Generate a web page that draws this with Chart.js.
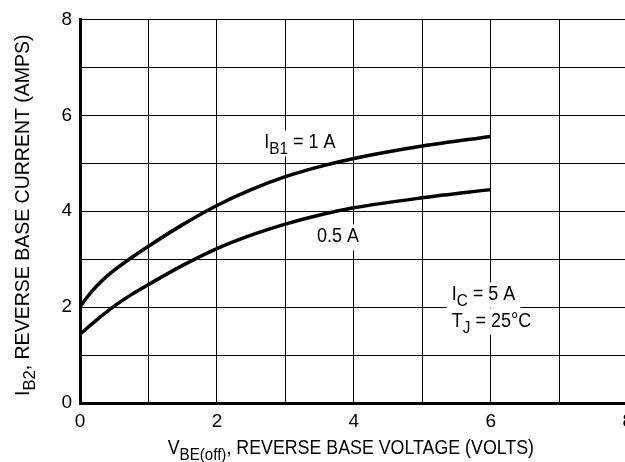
<!DOCTYPE html>
<html>
<head>
<meta charset="utf-8">
<script src="https://cdn.jsdelivr.net/npm/chart.js@4/dist/chart.umd.min.js"></script>
<style>
  html, body { margin: 0; padding: 0; background: #fff; overflow: hidden; }
  #wrap { width: 640px; height: 462px; }
</style>
</head>
<body>
<div id="wrap"><canvas id="ib2-chart" width="640" height="462"></canvas></div>
<script>
/** IB2 vs VBE(off) curves **/

// reverse base voltage (volts)
var vbe = [0, 0.1, 0.25, 0.5, 0.75, 1, 1.5, 2, 2.5, 3, 3.5, 4, 5, 6];
// reverse base current (amps) for IB1 = 1 A and IB1 = 0.5 A
var ib1One  = [2.0, 2.2, 2.45, 2.77, 3.03, 3.27, 3.72, 4.12, 4.45, 4.72, 4.93, 5.1, 5.36, 5.56];
var ib1Half = [1.43, 1.56, 1.74, 2.02, 2.26, 2.47, 2.87, 3.22, 3.5, 3.73, 3.92, 4.07, 4.28, 4.45];
var xTicks = [0, 2, 4, 6, 8];
var yTicks = [0, 2, 4, 6, 8];

var FONT = '"Liberation Sans", Arial, sans-serif';

function pts(xs, ys) {
    return xs.map(function (x, i) { return { x: x, y: ys[i] }; });
}

// width of text with subscripts: parts = [[text, isSub], ...]
function richWidth(ctx, parts, size) {
    var w = 0;
    parts.forEach(function (p) {
        ctx.font = (p[1] ? size * 0.85 : size) + 'px ' + FONT;
        w += ctx.measureText(p[0]).width;
    });
    return w;
}

// draws it squeezed sideways by sx (the original face is a narrow one)
function richText(ctx, parts, x, y, size, align, sx) {
    var total = richWidth(ctx, parts, size) * sx;
    ctx.save();
    ctx.translate(align === 'center' ? x - total / 2 : x, y);
    ctx.scale(sx, 1);
    var cx = 0;
    parts.forEach(function (p) {
        ctx.font = (p[1] ? size * 0.85 : size) + 'px ' + FONT;
        ctx.fillText(p[0], cx, p[1] ? 6 : 0);
        cx += ctx.measureText(p[0]).width;
    });
    ctx.restore();
    return total;
}

var labelsPlugin = {
    id: 'labels',
    afterDraw: function (chart) {
        var ctx = chart.ctx, xs = chart.scales.x, ys = chart.scales.y, a = chart.chartArea;
        ctx.save();
        ctx.fillStyle = '#000';
        ctx.textBaseline = 'alphabetic';
        ctx.textAlign = 'left';

        // notes inside the plot, with white boxes over the grid
        var notes = [
            { x: 2.69, y: 5.31, parts: [['I', false], ['B1', true], [' = 1 A', false]] },
            { x: 3.46, y: 3.35, parts: [['0.5 A', false]] },
            { x: 5.43, y: 2.14, parts: [['I', false], ['C', true], [' = 5 A', false]] },
            { x: 5.43, y: 1.59, parts: [['T', false], ['J', true], [' = 25°C', false]] }
        ];
        notes.forEach(function (n) {
            var px = xs.getPixelForValue(n.x), py = ys.getPixelForValue(n.y);
            var w = richWidth(ctx, n.parts, 20) * 0.9;
            ctx.fillStyle = '#fff';
            ctx.fillRect(px - 5, py - 18, w + 10, 26);
            ctx.fillStyle = '#000';
            richText(ctx, n.parts, px, py, 20, 'left', 0.9);
        });

        // x axis title
        richText(ctx, [['V', false], ['BE(off)', true], [', REVERSE BASE VOLTAGE (VOLTS)', false]],
            (a.left + a.right) / 2 - 3, 454, 20, 'center', 0.89);

        // y axis title
        ctx.translate(29, (a.top + a.bottom) / 2 + 4);
        ctx.rotate(-Math.PI / 2);
        richText(ctx, [['I', false], ['B2', true], [', REVERSE BASE CURRENT (AMPS)', false]], 0, 0, 20, 'center', 0.975);
        ctx.restore();
    }
};

var chart = new Chart(document.getElementById('ib2-chart'), {
    type: 'line',
    data: {
        datasets: [{
            label: 'IB1 = 1 A',
            data: pts(vbe, ib1One),
            borderColor: '#000',
            borderWidth: 3.5,
            pointRadius: 0,
            cubicInterpolationMode: 'monotone',
            fill: false
        }, {
            label: 'IB1 = 0.5 A',
            data: pts(vbe, ib1Half),
            borderColor: '#000',
            borderWidth: 3.5,
            pointRadius: 0,
            cubicInterpolationMode: 'monotone',
            fill: false
        }]
    },
    options: {
        responsive: false,
        animation: false,
        layout: { padding: { top: 16, right: 8, left: 0, bottom: 0 } },
        plugins: {
            legend: { display: false },
            tooltip: { enabled: false }
        },
        scales: {
            x: {
                type: 'linear',
                min: 0, max: 8,
                grid: { color: '#000', lineWidth: 1, drawTicks: false },
                border: { display: true, color: '#000', width: 3 },
                ticks: {
                    stepSize: 1,
                    maxRotation: 0,
                    padding: 7,
                    color: '#000',
                    font: { family: FONT, size: 19 },
                    callback: function (v) { return xTicks.indexOf(v) >= 0 ? v : ''; }
                },
                afterFit: function (s) { s.height = 59; }
            },
            y: {
                min: 0, max: 8,
                grid: { color: '#000', lineWidth: 1, drawTicks: false },
                border: { display: true, color: '#000', width: 3 },
                ticks: {
                    stepSize: 1,
                    padding: 8,
                    color: '#000',
                    font: { family: FONT, size: 19 },
                    callback: function (v) { return yTicks.indexOf(v) >= 0 ? v : ''; }
                },
                afterFit: function (s) { s.width = 80; }
            }
        }
    },
    plugins: [labelsPlugin]
});
</script>
</body>
</html>
